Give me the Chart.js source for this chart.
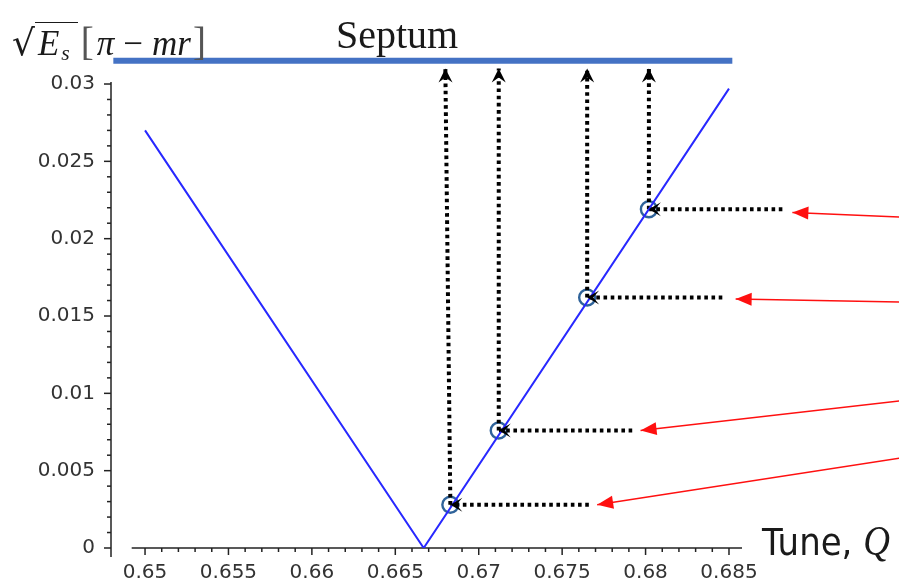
<!DOCTYPE html>
<html>
<head>
<meta charset="utf-8">
<script src="https://cdn.jsdelivr.net/npm/chart.js@4"></script>
<style>
    body { margin: 0; background: #fff; }
    #wrap { position: relative; width: 899px; height: 587px; overflow: hidden; }
    #chart { position: absolute; left: 0; top: 0; }
    .lbl { position: absolute; white-space: nowrap; color: #1a1a1a; line-height: 1; }
    #ylab { left: 12px; top: 19px; font: 35px 'Liberation Serif', serif; }
    #ylab .rt { font-family: 'DejaVu Sans', sans-serif; font-size: 36px; }
    #ylab .ov { border-top: 1.5px solid #1a1a1a; padding-top: 1px; padding-left: 3px; padding-right: 6px; }
    #ylab .ov i { letter-spacing: 2px; }
    #ylab sub { font-size: 62%; vertical-align: -5px; }
    #ylab .br { font-size: 39px; color: #555; }
    #ylab .op { margin: 0 9px; }
    #ylab .lb { margin-left: 3px; margin-right: 3px; }
    #ylab .rb { margin-left: 2px; }
    #septum { left: 336px; top: 11px; font: 40px 'Liberation Serif', serif; }
    #tune { left: 762px; top: 517px; font: 34px 'DejaVu Sans', sans-serif; transform: scaleY(1.12); transform-origin: left top; }
    #tune i { font-family: 'Liberation Serif', serif; font-size: 37px; }
</style>
</head>
<body>
<div id="wrap">
    <canvas id="chart" width="899" height="587"></canvas>
    <div class="lbl" id="ylab"><span class="rt">√</span><span class="ov"><i>E</i><sub><i>s</i></sub></span><span class="br lb">[</span><i>π</i><span class="op">−</span><i>mr</i><span class="br rb">]</span></div>
    <div class="lbl" id="septum">Septum</div>
    <div class="lbl" id="tune">Tune, <i>Q</i></div>
</div>
<script>
//----------------------------------------------
// DATA
//----------------------------------------------
// resonance stopband edge: sqrt(Es) against tune
const curveQ = [0.65, 0.6667, 0.685];
const curveE = [0.0270, 0, 0.0297];

// septum position
const septumQ = [0.6481, 0.6852];
const septumE = [0.0315, 0.0315];

// working points on the stopband edge (bottom to top)
const markQ = [0.6683, 0.6712, 0.6765, 0.6802];
const markE = [0.0028, 0.0076, 0.0162, 0.0219];

// dotted arrows up to the septum
const riseTopQ = [0.6680, 0.6712, 0.6765, 0.6802];
const riseTopE = 0.0310;

// dotted arrows in from the right onto each point
const feedStartQ = [0.6766, 0.6792, 0.6846, 0.6882];

// red pointer arrows coming in from the right edge
const redFromQ = 0.6952;
const redFromE = [0.0058, 0.0095, 0.0159, 0.0214];
const redToQ = [0.6771, 0.6797, 0.6854, 0.6888];
const redToE = [0.0028, 0.0076, 0.0161, 0.0217];

// axes
const xTicks = [0.65, 0.655, 0.66, 0.665, 0.67, 0.675, 0.68, 0.685];
const xTickLabels = ['0.65', '0.655', '0.66', '0.665', '0.67', '0.675', '0.68', '0.685'];
const yTicks = [0, 0.005, 0.01, 0.015, 0.02, 0.025, 0.03];
const yTickLabels = ['0', '0.005', '0.01', '0.015', '0.02', '0.025', '0.03'];
const xMin = 0.64796, xMax = 0.68578;
const yMin = 0, yMax = 0.03013;
const xSpineStart = 0.6492;

//----------------------------------------------
// DATASETS
//----------------------------------------------
const dotted = { borderColor: '#000', borderWidth: 4, borderDash: [3.6, 3.6], borderCapStyle: 'butt' };
let datasets = [];

datasets.push({
    data: curveQ.map((q, i) => ({ x: q, y: curveE[i] })),
    showLine: true, borderColor: '#2828ff', borderWidth: 2, pointRadius: 0
});

datasets.push({
    data: septumQ.map((q, i) => ({ x: q, y: septumE[i] })),
    showLine: true, borderColor: '#4472c4', borderWidth: 6, pointRadius: 0, clip: false
});

for (let i = 0; i < markQ.length; i++) {
    datasets.push(Object.assign({
        data: [{ x: markQ[i], y: markE[i] }, { x: riseTopQ[i], y: riseTopE }],
        showLine: true, pointRadius: 0, clip: false, arrowHead: 'stealth'
    }, dotted));
    datasets.push(Object.assign({
        data: [{ x: feedStartQ[i], y: markE[i] }, { x: markQ[i], y: markE[i] }],
        showLine: true, pointRadius: 0, clip: false, arrowHead: 'chevron'
    }, dotted));
    datasets.push({
        data: [{ x: redFromQ, y: redFromE[i] }, { x: redToQ[i], y: redToE[i] }],
        showLine: true, borderColor: '#ff1010', borderWidth: 1.5, pointRadius: 0,
        clip: false, arrowHead: 'red'
    });
}

datasets.push({
    data: markQ.map((q, i) => ({ x: q, y: markE[i] })),
    showLine: false, pointStyle: 'circle', pointRadius: 8,
    pointBorderColor: '#2f639a', pointBorderWidth: 2.4, pointBackgroundColor: 'rgba(0,0,0,0)'
});

//----------------------------------------------
// PLUGINS
//----------------------------------------------
const spinePlugin = {
    id: 'spines',
    beforeDatasetsDraw(chart) {
        const { ctx, chartArea, scales } = chart;
        const x = scales.x, y = scales.y;
        ctx.save();
        ctx.strokeStyle = '#222';
        ctx.lineWidth = 1.5;

        // left spine hangs a bit below the baseline
        ctx.beginPath();
        ctx.moveTo(chartArea.left, chartArea.top);
        ctx.lineTo(chartArea.left, chartArea.bottom + 9);
        ctx.stroke();
        for (let i = 0; i <= 30; i++) {
            const py = y.getPixelForValue(i / 1000);
            const len = (i % 5 === 0) ? 7 : 4;
            ctx.beginPath();
            ctx.moveTo(chartArea.left - len, py);
            ctx.lineTo(chartArea.left, py);
            ctx.stroke();
        }

        // bottom spine
        const x0 = x.getPixelForValue(xSpineStart);
        ctx.beginPath();
        ctx.moveTo(x0, chartArea.bottom);
        ctx.lineTo(chartArea.right, chartArea.bottom);
        ctx.stroke();
        for (let i = 0; i <= 35; i++) {
            const px = x.getPixelForValue(0.65 + i / 1000);
            const len = (i % 5 === 0) ? 7 : 4;
            ctx.beginPath();
            ctx.moveTo(px, chartArea.bottom);
            ctx.lineTo(px, chartArea.bottom + len);
            ctx.stroke();
        }
        ctx.restore();
    }
};

const arrowPlugin = {
    id: 'arrowHeads',
    afterDatasetsDraw(chart) {
        const ctx = chart.ctx;
        chart.data.datasets.forEach((ds, i) => {
            if (!ds.arrowHead) return;
            const pts = chart.getDatasetMeta(i).data;
            const p0 = pts[pts.length - 2], p1 = pts[pts.length - 1];
            const ang = Math.atan2(p1.y - p0.y, p1.x - p0.x);
            ctx.save();
            ctx.translate(p1.x, p1.y);
            ctx.rotate(ang);
            ctx.beginPath();
            if (ds.arrowHead === 'red') {
                ctx.fillStyle = '#ff1010';
                ctx.moveTo(0, 0);
                ctx.lineTo(-16, -6.5);
                ctx.lineTo(-16, 6.5);
            } else if (ds.arrowHead === 'stealth') {
                ctx.fillStyle = '#000';
                ctx.moveTo(0, 0);
                ctx.lineTo(-14, -7);
                ctx.lineTo(-9, 0);
                ctx.lineTo(-14, 7);
            } else {
                ctx.fillStyle = '#000';
                ctx.moveTo(0, 0);
                ctx.lineTo(-12, -7);
                ctx.lineTo(-6, 0);
                ctx.lineTo(-12, 7);
            }
            ctx.closePath();
            ctx.fill();
            ctx.restore();
        });
    }
};

//----------------------------------------------
// CHART
//----------------------------------------------
const tickFont = { family: 'DejaVu Sans', size: 20 };

new Chart(document.getElementById('chart').getContext('2d'), {
    type: 'scatter',
    data: { datasets: datasets },
    options: {
        responsive: false,
        animation: false,
        devicePixelRatio: 1,
        layout: { padding: { top: 82, right: 157, left: 0, bottom: 0 } },
        plugins: { legend: { display: false }, tooltip: { enabled: false } },
        elements: { line: { tension: 0 } },
        scales: {
            x: {
                type: 'linear', min: xMin, max: xMax,
                afterBuildTicks: s => { s.ticks = xTicks.map(v => ({ value: v })); },
                afterFit: s => { s.height = 39; },
                grid: { display: false, drawTicks: false },
                border: { display: false },
                ticks: {
                    padding: 13, autoSkip: false, maxRotation: 0, font: tickFont, color: '#333',
                    callback: (v, i) => xTickLabels[i]
                }
            },
            y: {
                type: 'linear', min: yMin, max: yMax,
                afterBuildTicks: s => { s.ticks = yTicks.map(v => ({ value: v })); },
                afterFit: s => { s.width = 111; },
                grid: { display: false, drawTicks: false },
                border: { display: false },
                ticks: {
                    padding: 16, font: tickFont, color: '#333',
                    callback: (v, i) => yTickLabels[i]
                }
            }
        }
    },
    plugins: [spinePlugin, arrowPlugin]
});
</script>
</body>
</html>
